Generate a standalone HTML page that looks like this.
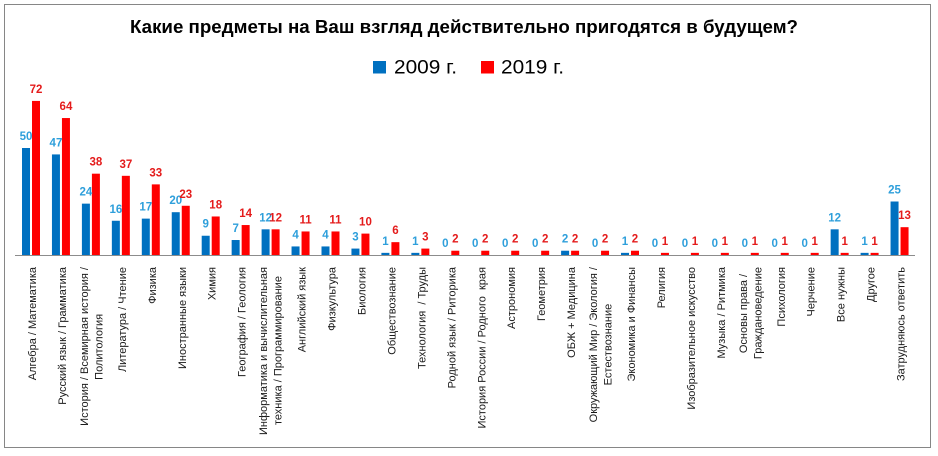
<!DOCTYPE html>
<html><head><meta charset="utf-8"><style>
html,body{margin:0;padding:0;background:#fff;}
body{position:relative;width:938px;height:456px;overflow:hidden;}
svg{display:block;position:absolute;left:0;top:0;}
.t{font-family:"Liberation Sans",Arial,sans-serif;}
.bl{font-family:"Liberation Sans",Arial,sans-serif;font-weight:bold;font-size:11.5px;fill:#2E9FDB;text-anchor:middle;}
.rl{font-family:"Liberation Sans",Arial,sans-serif;font-weight:bold;font-size:11.5px;fill:#E41B1B;text-anchor:middle;}
.xl{font-family:"Liberation Sans",Arial,sans-serif;font-size:11px;fill:#1a1a1a;}
.b{fill:#0070C0;}
.r{fill:#FF0000;}
.ml{position:absolute;top:267px;writing-mode:vertical-rl;transform:rotate(180deg);text-align:center;
font-family:"Liberation Sans",Arial,sans-serif;font-size:11px;line-height:14.5px;white-space:nowrap;color:#1a1a1a;}
</style></head><body>
<svg width="938" height="456" viewBox="0 0 938 456" xmlns="http://www.w3.org/2000/svg">
<rect x="0" y="0" width="938" height="456" fill="#fff"/>
<rect x="4.5" y="4.5" width="926" height="443" fill="#fff" stroke="#868686" stroke-width="1"/>
<text class="t" x="464" y="33" text-anchor="middle" font-size="18" font-weight="bold" fill="#000" textLength="668" lengthAdjust="spacingAndGlyphs">Какие предметы на Ваш взгляд действительно пригодятся в будущем?</text>
<rect x="373" y="61" width="13" height="12.5" fill="#0070C0"/>
<text class="t" x="394" y="73.3" font-size="19.5" fill="#000" textLength="63" lengthAdjust="spacingAndGlyphs">2009 г.</text>
<rect x="481" y="61" width="13" height="12.5" fill="#FF0000"/>
<text class="t" x="501" y="73.3" font-size="19.5" fill="#000" textLength="63" lengthAdjust="spacingAndGlyphs">2019 г.</text>

<!-- bars -->
<rect class="b" x="22" y="148" width="8" height="107"/><rect class="r" x="32" y="100.92" width="8" height="154.08"/>
<rect class="b" x="51.95" y="154.42" width="8" height="100.58"/><rect class="r" x="61.95" y="118.04" width="8" height="136.96"/>
<rect class="b" x="81.9" y="203.64" width="8" height="51.36"/><rect class="r" x="91.9" y="173.68" width="8" height="81.32"/>
<rect class="b" x="111.85" y="220.76" width="8" height="34.24"/><rect class="r" x="121.85" y="175.82" width="8" height="79.18"/>
<rect class="b" x="141.8" y="218.62" width="8" height="36.38"/><rect class="r" x="151.8" y="184.38" width="8" height="70.62"/>
<rect class="b" x="171.75" y="212.2" width="8" height="42.8"/><rect class="r" x="181.75" y="205.78" width="8" height="49.22"/>
<rect class="b" x="201.7" y="235.74" width="8" height="19.26"/><rect class="r" x="211.7" y="216.48" width="8" height="38.52"/>
<rect class="b" x="231.65" y="240.02" width="8" height="14.98"/><rect class="r" x="241.65" y="225.04" width="8" height="29.96"/>
<rect class="b" x="261.6" y="229.32" width="8" height="25.68"/><rect class="r" x="271.6" y="229.32" width="8" height="25.68"/>
<rect class="b" x="291.55" y="246.44" width="8" height="8.56"/><rect class="r" x="301.55" y="231.46" width="8" height="23.54"/>
<rect class="b" x="321.5" y="246.44" width="8" height="8.56"/><rect class="r" x="331.5" y="231.46" width="8" height="23.54"/>
<rect class="b" x="351.45" y="248.58" width="8" height="6.42"/><rect class="r" x="361.45" y="233.6" width="8" height="21.4"/>
<rect class="b" x="381.4" y="252.86" width="8" height="2.14"/><rect class="r" x="391.4" y="242.16" width="8" height="12.84"/>
<rect class="b" x="411.35" y="252.86" width="8" height="2.14"/><rect class="r" x="421.35" y="248.58" width="8" height="6.42"/>
<rect class="r" x="451.3" y="250.72" width="8" height="4.28"/>
<rect class="r" x="481.25" y="250.72" width="8" height="4.28"/>
<rect class="r" x="511.2" y="250.72" width="8" height="4.28"/>
<rect class="r" x="541.15" y="250.72" width="8" height="4.28"/>
<rect class="b" x="561.1" y="250.72" width="8" height="4.28"/><rect class="r" x="571.1" y="250.72" width="8" height="4.28"/>
<rect class="r" x="601.05" y="250.72" width="8" height="4.28"/>
<rect class="b" x="621" y="252.86" width="8" height="2.14"/><rect class="r" x="631" y="250.72" width="8" height="4.28"/>
<rect class="r" x="660.95" y="252.86" width="8" height="2.14"/>
<rect class="r" x="690.9" y="252.86" width="8" height="2.14"/>
<rect class="r" x="720.85" y="252.86" width="8" height="2.14"/>
<rect class="r" x="750.8" y="252.86" width="8" height="2.14"/>
<rect class="r" x="780.75" y="252.86" width="8" height="2.14"/>
<rect class="r" x="810.7" y="252.86" width="8" height="2.14"/>
<rect class="b" x="830.65" y="229.32" width="8" height="25.68"/><rect class="r" x="840.65" y="252.86" width="8" height="2.14"/>
<rect class="b" x="860.6" y="252.86" width="8" height="2.14"/><rect class="r" x="870.6" y="252.86" width="8" height="2.14"/>
<rect class="b" x="890.55" y="201.5" width="8" height="53.5"/><rect class="r" x="900.55" y="227.18" width="8" height="27.82"/>

<line x1="15" y1="255.5" x2="915" y2="255.5" stroke="#8c8c8c" stroke-width="1"/>

<!-- data labels -->
<text class="bl" x="26" y="140">50</text><text class="rl" x="36" y="92.92">72</text>
<text class="bl" x="55.95" y="146.42">47</text><text class="rl" x="65.95" y="110.04">64</text>
<text class="bl" x="85.9" y="195.64">24</text><text class="rl" x="95.9" y="165.68">38</text>
<text class="bl" x="115.85" y="212.76">16</text><text class="rl" x="125.85" y="167.82">37</text>
<text class="bl" x="145.8" y="210.62">17</text><text class="rl" x="155.8" y="176.38">33</text>
<text class="bl" x="175.75" y="204.2">20</text><text class="rl" x="185.75" y="197.78">23</text>
<text class="bl" x="205.7" y="227.74">9</text><text class="rl" x="215.7" y="208.48">18</text>
<text class="bl" x="235.65" y="232.02">7</text><text class="rl" x="245.65" y="217.04">14</text>
<text class="bl" x="265.6" y="221.32">12</text><text class="rl" x="275.6" y="221.32">12</text>
<text class="bl" x="295.55" y="238.44">4</text><text class="rl" x="305.55" y="223.46">11</text>
<text class="bl" x="325.5" y="238.44">4</text><text class="rl" x="335.5" y="223.46">11</text>
<text class="bl" x="355.45" y="240.58">3</text><text class="rl" x="365.45" y="225.6">10</text>
<text class="bl" x="385.4" y="244.86">1</text><text class="rl" x="395.4" y="234.16">6</text>
<text class="bl" x="415.35" y="244.86">1</text><text class="rl" x="425.35" y="240.58">3</text>
<text class="bl" x="445.3" y="247">0</text><text class="rl" x="455.3" y="242.72">2</text>
<text class="bl" x="475.25" y="247">0</text><text class="rl" x="485.25" y="242.72">2</text>
<text class="bl" x="505.2" y="247">0</text><text class="rl" x="515.2" y="242.72">2</text>
<text class="bl" x="535.15" y="247">0</text><text class="rl" x="545.15" y="242.72">2</text>
<text class="bl" x="565.1" y="242.72">2</text><text class="rl" x="575.1" y="242.72">2</text>
<text class="bl" x="595.05" y="247">0</text><text class="rl" x="605.05" y="242.72">2</text>
<text class="bl" x="625" y="244.86">1</text><text class="rl" x="635" y="242.72">2</text>
<text class="bl" x="654.95" y="247">0</text><text class="rl" x="664.95" y="244.86">1</text>
<text class="bl" x="684.9" y="247">0</text><text class="rl" x="694.9" y="244.86">1</text>
<text class="bl" x="714.85" y="247">0</text><text class="rl" x="724.85" y="244.86">1</text>
<text class="bl" x="744.8" y="247">0</text><text class="rl" x="754.8" y="244.86">1</text>
<text class="bl" x="774.75" y="247">0</text><text class="rl" x="784.75" y="244.86">1</text>
<text class="bl" x="804.7" y="247">0</text><text class="rl" x="814.7" y="244.86">1</text>
<text class="bl" x="834.65" y="221.32">12</text><text class="rl" x="844.65" y="244.86">1</text>
<text class="bl" x="864.6" y="244.86">1</text><text class="rl" x="874.6" y="244.86">1</text>
<text class="bl" x="894.55" y="193.5">25</text><text class="rl" x="904.55" y="219.18">13</text>

<!-- x axis labels (single line) -->
<text class="xl" text-anchor="end" transform="translate(36,267) rotate(-90)">Алгебра / Математика</text>
<text class="xl" text-anchor="end" transform="translate(65.95,267) rotate(-90)">Русский язык / Грамматика</text>
<text class="xl" text-anchor="end" transform="translate(125.85,267) rotate(-90)">Литература / Чтение</text>
<text class="xl" text-anchor="end" transform="translate(155.8,267) rotate(-90)">Физика</text>
<text class="xl" text-anchor="end" transform="translate(185.75,267) rotate(-90)">Иностранные языки</text>
<text class="xl" text-anchor="end" transform="translate(215.7,267) rotate(-90)">Химия</text>
<text class="xl" text-anchor="end" transform="translate(245.65,267) rotate(-90)">География / Геология</text>
<text class="xl" text-anchor="end" transform="translate(305.55,267) rotate(-90)">Английский язык</text>
<text class="xl" text-anchor="end" transform="translate(335.5,267) rotate(-90)">Физкультура</text>
<text class="xl" text-anchor="end" transform="translate(365.45,267) rotate(-90)">Биология</text>
<text class="xl" text-anchor="end" transform="translate(395.4,267) rotate(-90)">Обществознание</text>
<text class="xl" text-anchor="end" transform="translate(425.35,267) rotate(-90)">Технология &#160;/ Труды</text>
<text class="xl" text-anchor="end" transform="translate(455.3,267) rotate(-90)">Родной язык / Риторика</text>
<text class="xl" text-anchor="end" transform="translate(485.25,267) rotate(-90)">История России / Родного &#160;края</text>
<text class="xl" text-anchor="end" transform="translate(515.2,267) rotate(-90)">Астрономия</text>
<text class="xl" text-anchor="end" transform="translate(545.15,267) rotate(-90)">Геометрия</text>
<text class="xl" text-anchor="end" transform="translate(575.1,267) rotate(-90)">ОБЖ + Медицина</text>
<text class="xl" text-anchor="end" transform="translate(635,267) rotate(-90)">Экономика и Финансы</text>
<text class="xl" text-anchor="end" transform="translate(664.95,267) rotate(-90)">Религия</text>
<text class="xl" text-anchor="end" transform="translate(694.9,267) rotate(-90)">Изобразительное искусство</text>
<text class="xl" text-anchor="end" transform="translate(724.85,267) rotate(-90)">Музыка / Ритмика</text>
<text class="xl" text-anchor="end" transform="translate(784.75,267) rotate(-90)">Психология</text>
<text class="xl" text-anchor="end" transform="translate(814.7,267) rotate(-90)">Черчение</text>
<text class="xl" text-anchor="end" transform="translate(844.65,267) rotate(-90)">Все нужны</text>
<text class="xl" text-anchor="end" transform="translate(874.6,267) rotate(-90)">Другое</text>
<text class="xl" text-anchor="end" transform="translate(904.55,267) rotate(-90)">Затрудняюсь ответить</text>
</svg>

<!-- two-line x axis labels -->
<div class="ml" style="left:77.65px;">История / Всемирная история /<br>Политология</div>
<div class="ml" style="left:257.35px;">Информатика и вычислительная<br>техника / Программирование</div>
<div class="ml" style="left:586.8px;">Окружающий Мир / Экология /<br>Естествознание</div>
<div class="ml" style="left:736.55px;">Основы права /<br>Граждановедение</div>
</body></html>
